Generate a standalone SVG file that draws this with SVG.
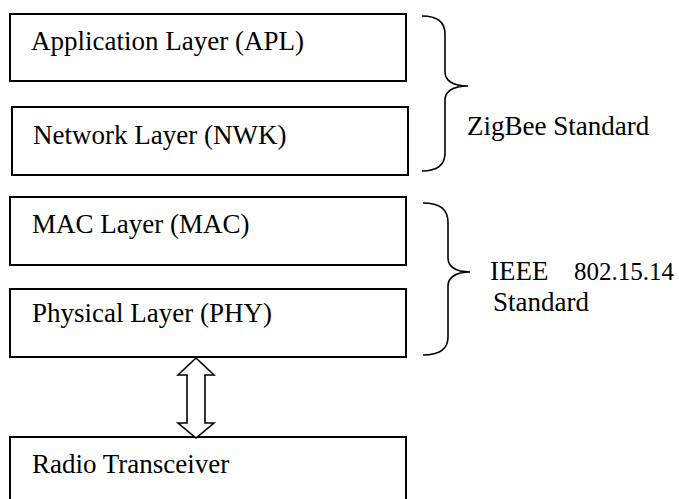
<svg xmlns="http://www.w3.org/2000/svg" width="679" height="499" viewBox="0 0 679 499">
<style>
.box{fill:#fff;stroke:#000;stroke-width:2}
.lbl{font-family:"Liberation Serif","Times New Roman",serif;font-size:27px;fill:#000}
.brace{fill:none;stroke:#000;stroke-width:1.6}
.arrow{fill:#fff;stroke:#000;stroke-width:1.6;stroke-linejoin:miter}
</style>
<rect width="679" height="499" fill="#fff"/>
<g id="apl"><rect class="box" x="10" y="14" width="396" height="67"/><text class="lbl" x="31" y="50">Application Layer (APL)</text></g>
<g id="nwk"><rect class="box" x="12" y="107" width="396" height="68"/><text class="lbl" x="33" y="144">Network Layer (NWK)</text></g>
<g id="mac"><rect class="box" x="10" y="197" width="396" height="68"/><text class="lbl" x="32" y="233">MAC Layer (MAC)</text></g>
<g id="phy"><rect class="box" x="10" y="289" width="396" height="68"/><text class="lbl" x="32" y="322">Physical Layer (PHY)</text></g>
<g id="radio"><rect class="box" x="10" y="437" width="396" height="70"/><text class="lbl" x="32" y="473">Radio Transceiver</text></g>
<g id="zigbee">
<path class="brace" d="M422,16 C438,16 445,22 445,34 L445,72 C445,80 452,86 468,86 C452,86 445,92 445,100 L445,153 C445,165 438,171 422,171"/>
<text class="lbl" x="467" y="135">ZigBee Standard</text>
</g>
<g id="ieee">
<path class="brace" d="M423,203 C440,203 448,210 448,222 L448,258 C448,266 455,272 470,272 C455,272 448,278 448,286 L448,337 C448,349 440,355 423,355"/>
<text class="lbl" x="490" y="280">IEEE</text>
<text class="lbl" x="574" y="280" style="font-size:25px">802.15.14</text>
<text class="lbl" x="493" y="311">Standard</text>
</g>
<g id="connectors">
<path class="arrow" d="M196,358 L214,375 L205,375 L205,423 L214,423 L196,438 L178,423 L187,423 L187,375 L178,375 Z"/>
</g>
</svg>
